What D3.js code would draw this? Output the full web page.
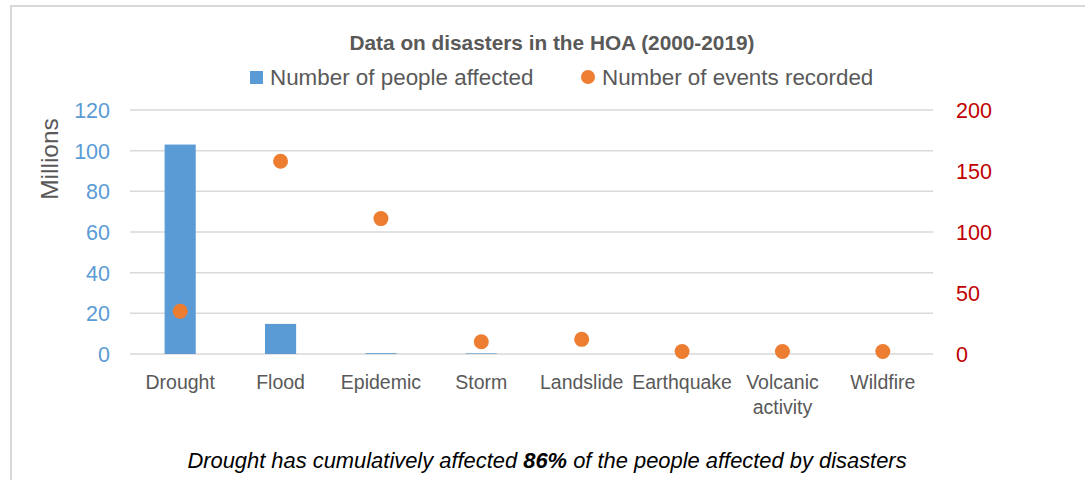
<!DOCTYPE html>
<html>
<head>
  <meta charset="utf-8">
  <title>Data on disasters in the HOA</title>
  <script src="https://cdn.jsdelivr.net/npm/d3@7/dist/d3.min.js"></script>
  <style>
    body { margin: 0; background: #fff; }
    svg { display: block; font-family: "Liberation Sans", Arial, sans-serif; }
    .grid line { stroke: #d9d9d9; stroke-width: 1.5px; }
  </style>
</head>
<body>
  <svg id="chart" width="1085" height="480"></svg>
  <script>
    // categories and series
    var categories = ["Drought", "Flood", "Epidemic", "Storm", "Landslide", "Earthquake", "Volcanic activity", "Wildfire"];
    var peopleAffected = [103, 14.8, 0.4, 0.3, 0, 0, 0, 0];   // millions
    var eventsRecorded = [35, 158, 111, 10, 12, 2, 2, 2];
    var leftTicks = [0, 20, 40, 60, 80, 100, 120];
    var rightTicks = [0, 50, 100, 150, 200];

    var blue = "#5b9bd5", orange = "#ed7d31", grey = "#595959", red = "#c00000";

    var svg = d3.select("#chart");

    // chart frame
    svg.append("rect")
      .attr("x", 11).attr("y", 6)
      .attr("width", 1100).attr("height", 500)
      .attr("fill", "none")
      .attr("stroke", "#d9d9d9")
      .attr("stroke-width", 2);

    var x = d3.scaleBand().domain(categories).range([130, 933]).paddingInner(0.69).paddingOuter(0.345);
    var yL = d3.scaleLinear().domain([0, 120]).range([354, 110]);
    var yR = d3.scaleLinear().domain([0, 200]).range([354, 110]);

    // gridlines
    svg.append("g").attr("class", "grid")
      .selectAll("line").data(leftTicks).enter().append("line")
      .attr("x1", 130).attr("x2", 933)
      .attr("y1", function(d) { return yL(d); })
      .attr("y2", function(d) { return yL(d); });

    // left axis
    var gl = svg.append("g")
      .attr("transform", "translate(110,0)")
      .call(d3.axisLeft(yL).tickValues(leftTicks).tickSize(0).tickPadding(0));
    gl.select(".domain").remove();
    gl.selectAll("text").attr("fill", blue).style("font-size", "21.5px").attr("dy", "0.35em");

    // right axis
    var gr = svg.append("g")
      .attr("transform", "translate(956,0)")
      .call(d3.axisRight(yR).tickValues(rightTicks).tickSize(0).tickPadding(0));
    gr.select(".domain").remove();
    gr.selectAll("text").attr("fill", red).style("font-size", "21.5px").attr("dy", "0.35em");

    // bars
    svg.append("g").selectAll("rect").data(peopleAffected).enter().append("rect")
      .attr("x", function(d, i) { return x(categories[i]); })
      .attr("width", x.bandwidth())
      .attr("y", function(d) { return yL(d); })
      .attr("height", function(d) { return yL(0) - yL(d); })
      .attr("fill", blue);

    // event markers
    svg.append("g").selectAll("circle").data(eventsRecorded).enter().append("circle")
      .attr("cx", function(d, i) { return x(categories[i]) + x.bandwidth() / 2; })
      .attr("cy", function(d) { return yR(d); })
      .attr("r", 7.5)
      .attr("fill", orange);

    // category labels
    var cl = svg.append("g").selectAll("text").data(categories).enter().append("text")
      .attr("text-anchor", "middle")
      .attr("fill", grey)
      .style("font-size", "19.5px")
      .attr("transform", function(d) { return "translate(" + (x(d) + x.bandwidth() / 2) + ",389)"; });
    cl.each(function(d) {
      var words = d === "Volcanic activity" ? ["Volcanic", "activity"] : [d];
      d3.select(this).selectAll("tspan").data(words).enter().append("tspan")
        .attr("x", 0)
        .attr("y", function(w, j) { return j * 25; })
        .text(function(w) { return w; });
    });

    // y axis title
    svg.append("text")
      .attr("transform", "translate(58,159) rotate(-90)")
      .attr("text-anchor", "middle")
      .attr("fill", grey)
      .style("font-size", "24.5px")
      .text("Millions");

    // title
    svg.append("text")
      .attr("x", 552).attr("y", 50)
      .attr("text-anchor", "middle")
      .attr("fill", grey)
      .style("font-size", "20.8px")
      .style("font-weight", "bold")
      .text("Data on disasters in the HOA (2000-2019)");

    // legend
    var legend = svg.append("g").attr("transform", "translate(0,85)");
    legend.append("rect").attr("x", 250).attr("y", -14).attr("width", 13).attr("height", 13).attr("fill", blue);
    legend.append("text").attr("x", 270).attr("fill", grey).style("font-size", "22.4px").text("Number of people affected");
    legend.append("circle").attr("cx", 588).attr("cy", -8).attr("r", 7).attr("fill", orange);
    legend.append("text").attr("x", 602).attr("fill", grey).style("font-size", "22.4px").text("Number of events recorded");

    // footnote
    var note = svg.append("text")
      .attr("x", 547).attr("y", 468)
      .attr("text-anchor", "middle")
      .attr("fill", "#000")
      .style("font-size", "21.9px")
      .style("font-style", "italic");
    note.append("tspan").text("Drought has cumulatively affected ");
    note.append("tspan").style("font-weight", "bold").text("86%");
    note.append("tspan").text(" of the people affected by disasters");
  </script>
</body>
</html>
